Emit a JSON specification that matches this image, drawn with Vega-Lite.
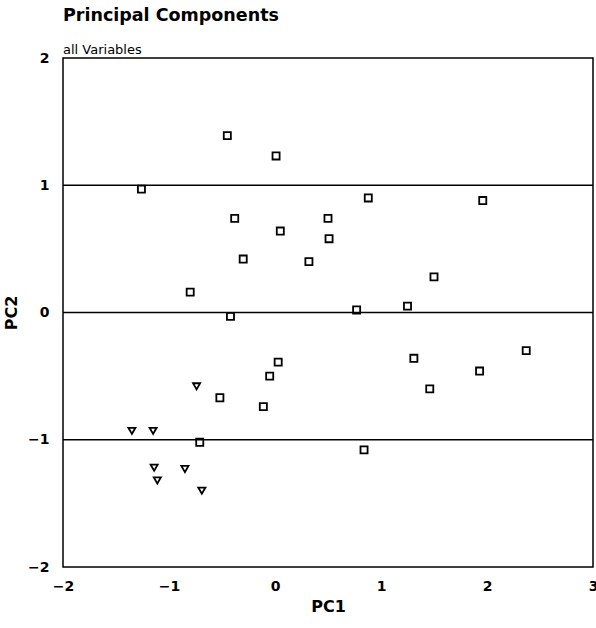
{
  "$schema": "https://vega.github.io/schema/vega-lite/v6.json",
  "autosize": {"type": "none"},
  "width": 530,
  "height": 509,
  "padding": {"left": 63, "top": 58, "right": 3, "bottom": 61},
  "background": "white",
  "title": {
    "text": "Principal Components",
    "subtitle": "all Variables",
    "anchor": "start",
    "frame": "group",
    "font": "DejaVu Sans",
    "fontSize": 17.5,
    "fontWeight": "bold",
    "color": "black",
    "subtitleFont": "DejaVu Sans",
    "subtitleFontSize": 13,
    "subtitleColor": "black",
    "subtitlePadding": 20,
    "offset": -6
  },
  "config": {
    "view": {"stroke": "black", "strokeWidth": 1.5},
    "axis": {
      "grid": false,
      "ticks": false,
      "domain": false,
      "labelFont": "DejaVu Sans",
      "labelFontSize": 14,
      "labelFontWeight": "bold",
      "labelColor": "black",
      "titleFont": "DejaVu Sans",
      "titleFontSize": 16,
      "titleFontWeight": "bold",
      "titleColor": "black"
    }
  },
  "datasets": {
    "points": [
      {"PC1": -0.45, "PC2": 1.39, "group": "a"},
      {"PC1": 0.01, "PC2": 1.23, "group": "a"},
      {"PC1": -1.26, "PC2": 0.97, "group": "a"},
      {"PC1": -0.38, "PC2": 0.74, "group": "a"},
      {"PC1": 0.50, "PC2": 0.74, "group": "a"},
      {"PC1": 0.05, "PC2": 0.64, "group": "a"},
      {"PC1": 0.51, "PC2": 0.58, "group": "a"},
      {"PC1": -0.30, "PC2": 0.42, "group": "a"},
      {"PC1": 0.32, "PC2": 0.40, "group": "a"},
      {"PC1": -0.80, "PC2": 0.16, "group": "a"},
      {"PC1": -0.42, "PC2": -0.03, "group": "a"},
      {"PC1": 0.88, "PC2": 0.90, "group": "a"},
      {"PC1": 1.96, "PC2": 0.88, "group": "a"},
      {"PC1": 1.50, "PC2": 0.28, "group": "a"},
      {"PC1": 0.77, "PC2": 0.02, "group": "a"},
      {"PC1": 1.25, "PC2": 0.05, "group": "a"},
      {"PC1": 0.03, "PC2": -0.39, "group": "a"},
      {"PC1": -0.05, "PC2": -0.50, "group": "a"},
      {"PC1": -0.52, "PC2": -0.67, "group": "a"},
      {"PC1": -0.11, "PC2": -0.74, "group": "a"},
      {"PC1": -0.71, "PC2": -1.02, "group": "a"},
      {"PC1": 1.31, "PC2": -0.36, "group": "a"},
      {"PC1": 2.37, "PC2": -0.30, "group": "a"},
      {"PC1": 1.93, "PC2": -0.46, "group": "a"},
      {"PC1": 1.46, "PC2": -0.60, "group": "a"},
      {"PC1": 0.84, "PC2": -1.08, "group": "a"},
      {"PC1": -0.74, "PC2": -0.58, "group": "b"},
      {"PC1": -1.35, "PC2": -0.93, "group": "b"},
      {"PC1": -1.15, "PC2": -0.93, "group": "b"},
      {"PC1": -1.14, "PC2": -1.22, "group": "b"},
      {"PC1": -1.11, "PC2": -1.32, "group": "b"},
      {"PC1": -0.85, "PC2": -1.23, "group": "b"},
      {"PC1": -0.69, "PC2": -1.40, "group": "b"}
    ],
    "refs": [{"y": 1}, {"y": 0}, {"y": -1}]
  },
  "layer": [
    {
      "data": {"name": "refs"},
      "mark": {"type": "rule", "color": "black", "strokeWidth": 1.5},
      "encoding": {
        "y": {"field": "y", "type": "quantitative", "scale": {"domain": [-2, 2], "nice": false}}
      }
    },
    {
      "data": {"name": "points"},
      "mark": {"type": "point", "filled": false, "strokeWidth": 1.8, "color": "black", "opacity": 1},
      "encoding": {
        "x": {
          "field": "PC1", "type": "quantitative",
          "scale": {"domain": [-2, 3], "nice": false, "zero": false},
          "axis": {"values": [-2, -1, 0, 1, 2, 3], "format": "d", "title": "PC1", "labelPadding": 12, "titlePadding": 5, "labelFlush": false}
        },
        "y": {
          "field": "PC2", "type": "quantitative",
          "scale": {"domain": [-2, 2], "nice": false, "zero": false},
          "axis": {"values": [-2, -1, 0, 1, 2], "format": "d", "title": "PC2", "labelPadding": 14, "titlePadding": 8, "labelFlush": false}
        },
        "shape": {
          "field": "group", "type": "nominal",
          "scale": {"domain": ["a", "b"], "range": ["square", "triangle-down"]},
          "legend": null
        },
        "size": {"value": 50}
      }
    }
  ]
}
